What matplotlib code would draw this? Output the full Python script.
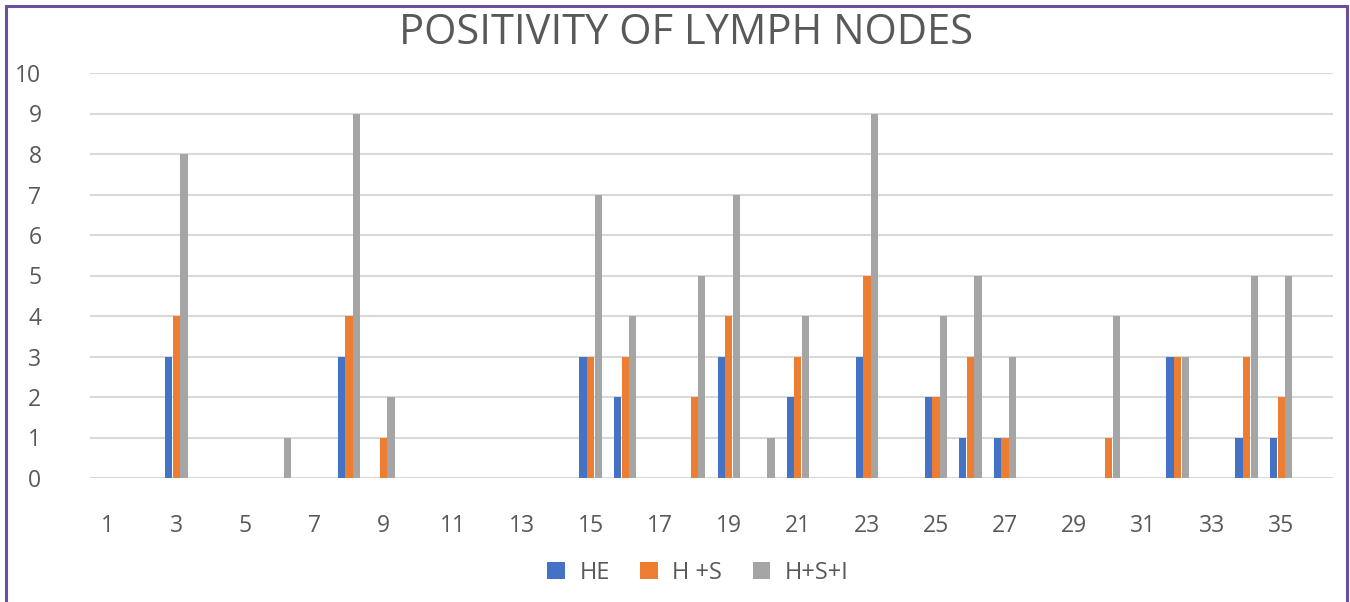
import numpy as np
import matplotlib.pyplot as plt
from matplotlib.patches import Rectangle

plt.rcParams['font.family'] = ['Open Sans', 'DejaVu Sans']

# sample numbers 1..35
cases = list(range(1, 36))
he = [0, 0, 3, 0, 0, 0, 0, 3, 0, 0, 0, 0, 0, 0, 3, 2, 0, 0, 3, 0,
      2, 0, 3, 0, 2, 1, 1, 0, 0, 0, 0, 3, 0, 1, 1]
h_s = [0, 0, 4, 0, 0, 0, 0, 4, 1, 0, 0, 0, 0, 0, 3, 3, 0, 2, 4, 0,
       3, 0, 5, 0, 2, 3, 1, 0, 0, 1, 0, 3, 0, 3, 2]
h_s_i = [0, 0, 8, 0, 0, 1, 0, 9, 2, 0, 0, 0, 0, 0, 7, 4, 0, 5, 7, 1,
         4, 0, 9, 0, 4, 5, 3, 0, 0, 4, 0, 3, 0, 5, 5]
series_names = ['HE', 'H +S', 'H+S+I']
colors = ['#4472C4', '#ED7D31', '#A5A5A5']
text_color = '#595959'

fig = plt.figure(figsize=(13.5, 6.02), dpi=100)
ax = fig.add_axes([90 / 1350, 1 - 478 / 602, (1333 - 90) / 1350, (478 - 73) / 602])

x = np.arange(len(cases))
w = 0.21
for i, (vals, name, c) in enumerate(zip([he, h_s, h_s_i], series_names, colors)):
    ax.bar(x + (i - 1) * 0.22, vals, width=w, color=c, label=name, zorder=3)

ax.set_ylim(0, 10)
ax.set_xlim(-0.5, len(cases) + 0.5)
ax.set_yticks(range(0, 11))
ax.set_xticks(x[::2])
ax.set_xticklabels([str(c) for c in cases[::2]])
ax.grid(axis='y', color='#d9d9d9', linewidth=1.5, zorder=0)
ax.tick_params(axis='both', length=0, colors=text_color, labelsize=16.5)
ax.tick_params(axis='x', pad=26)
ax.tick_params(axis='y', pad=35)
for s in ax.spines.values():
    s.set_visible(False)

fig.text(0.508, 1 - 33 / 602, 'POSITIVITY OF LYMPH NODES', ha='center', va='center',
         fontsize=30, color=text_color)

fig.legend(loc='center', bbox_to_anchor=(0.517, 1 - 573 / 602), ncol=3, frameon=False,
           fontsize=17, labelcolor=text_color, handlelength=0.75, handleheight=0.75,
           columnspacing=1.3, handletextpad=0.6)

fig.patches.append(Rectangle((6 / 1350, -0.05), 1341 / 1350, 1 - 6 / 602 + 0.05,
                             transform=fig.transFigure, fill=False,
                             edgecolor='#6b4f9e', linewidth=2.2))

plt.savefig('out.png', dpi=100)
